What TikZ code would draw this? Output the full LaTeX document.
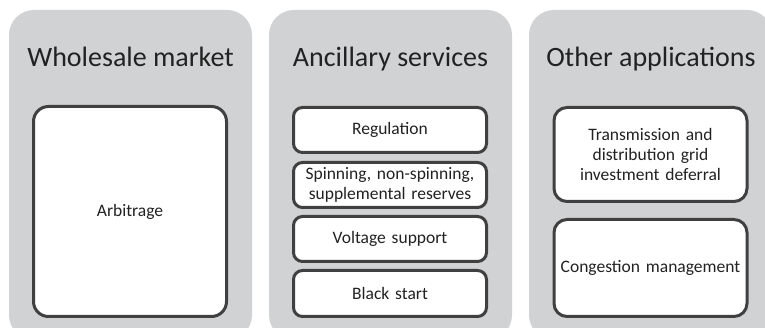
\documentclass[tikz,border=0pt]{standalone}
\usepackage{fontspec}
\setmainfont{Carlito}
\definecolor{panelgray}{HTML}{D1D2D4}
\definecolor{boxline}{HTML}{404040}
\definecolor{inktext}{HTML}{222222}
\begin{document}
\begin{tikzpicture}[x=1pt,y=-1pt,
  panel/.style={fill=panelgray,draw=none,rounded corners=25pt},
  paneltitle/.style={font=\fontsize{28}{32}\selectfont,text=inktext,inner sep=0pt},
  item/.style={draw=boxline,fill=white,line width=3pt,inner sep=2pt,
    text width=#1,align=center,font=\fontsize{17.5}{20}\selectfont,text=inktext},
  item/.default=186pt,
  wide/.style={minimum width=193pt},
]
\useasboundingbox (0,0) rectangle (765,328);
\clip (0,0) rectangle (765,328);
% three grey panels, running past the lower edge
\fill[panel] (9,10) rectangle (252,340);
\fill[panel] (269,10) rectangle (512,340);
\fill[panel] (529,10) rectangle (772,340);
% panel headings
\node[paneltitle,anchor=base] (tA) at (130.5,67) {Wholesale market};
\node[paneltitle,anchor=base] (tB) at (390.5,67) {Ancillary services};
\node[paneltitle,anchor=base] (tC) at (651,67) {Other applications};
% wholesale market
\node[item,wide,minimum height=210pt,rounded corners=15pt] (arb) at (130,211.5) {Arbitrage};
% ancillary services
\begin{scope}[every node/.append style={wide,rounded corners=9pt}]
\node[item,minimum height=45pt] (reg) at (390,130) {Regulation};
\node[item,minimum height=45pt] (res) at (390,185) {Spinning, non-spinning,\\supplemental reserves};
\node[item,minimum height=45pt] (volt) at (390,239) {Voltage support};
\node[item,minimum height=46pt] (bs) at (390,293.5) {Black start};
\end{scope}
% other applications
\begin{scope}[every node/.append style={wide,rounded corners=13pt}]
\node[item,minimum height=94pt] (td) at (650.5,154.5) {Transmission and\\distribution grid\\investment deferral};
\node[item,minimum height=97pt] (cong) at (650.5,268) {Congestion management};
\end{scope}
\end{tikzpicture}
\end{document}
